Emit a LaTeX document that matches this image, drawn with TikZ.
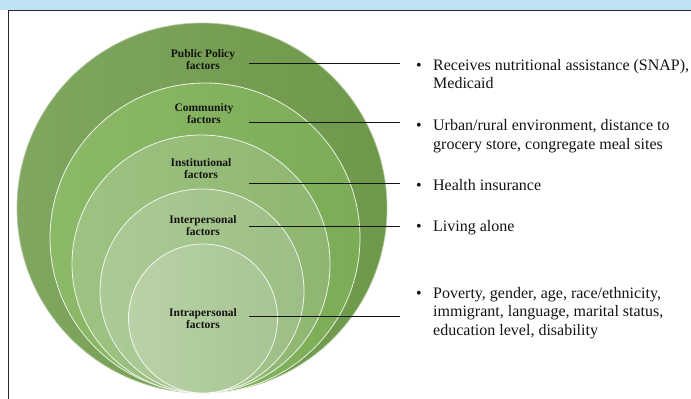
\documentclass[tikz,border=0pt]{standalone}
\usepackage{fontspec}
\setmainfont{Liberation Serif}
\definecolor{bandblue}{RGB}{190,227,245}
\definecolor{frame}{RGB}{40,40,40}
\definecolor{inkdark}{RGB}{20,20,20}
\definecolor{gOne}{RGB}{128,166,95}
\definecolor{gOneD}{RGB}{110,152,74}
\definecolor{gTwo}{RGB}{140,185,104}
\definecolor{gTwoD}{RGB}{124,172,86}
\definecolor{gThree}{RGB}{158,194,130}
\definecolor{gThreeD}{RGB}{143,182,112}
\definecolor{gFour}{RGB}{172,202,150}
\definecolor{gFourD}{RGB}{157,190,132}
\definecolor{gFive}{RGB}{185,210,167}
\definecolor{gFiveD}{RGB}{168,197,147}
\newcommand{\bulletline}{\makebox[17pt][l]{•}}
\newcommand{\contline}{\\\hspace*{17pt}}
\begin{document}
\begin{tikzpicture}[x=1pt,y=-1pt,
  ring/.style={circle, inner sep=0pt, draw=white, draw opacity=0.85, line width=0.8pt, shading angle=-60},
  lbl/.style={anchor=base, inner sep=0pt, text=inkdark,
    font=\fontsize{11.5}{12}\selectfont\bfseries},
  item/.style={anchor=base west, inner sep=0pt, text=inkdark,
    font=\fontsize{16}{18.5}\selectfont},
  link/.style={draw=inkdark, line width=1pt, shorten >=16pt}]
\useasboundingbox (0,0) rectangle (691,399);

% header band and frame
\fill[bandblue] (0,0) rectangle (691,10);
\draw[frame, line width=1pt] (691,10) -- (8,10) -- (8,399);

% nested circles, all touching at the bottom
\node[ring, minimum size=370pt, left color=gOne, right color=gOneD, draw=gOne!60!white] (ringPolicy) at (202,208) {};
\node[ring, minimum size=310pt, left color=gTwo, right color=gTwoD] (ringCommunity) at (205,238) {};
\node[ring, minimum size=258pt, left color=gThree, right color=gThreeD] (ringInstitution) at (201,264) {};
\node[ring, minimum size=204pt, left color=gFour, right color=gFourD] (ringInter) at (202,291) {};
\node[ring, minimum size=149pt, left color=gFive, right color=gFiveD] (ringIntra) at (203,318.5) {};

% ring labels
\node[lbl] (lblPolicy) at (203,57.5) {\parbox[t]{90pt}{\centering Public Policy\\factors}};
\node[lbl] (lblCommunity) at (204,111.5) {\parbox[t]{90pt}{\centering Community\\factors}};
\node[lbl] (lblInstitution) at (201,166.5) {\parbox[t]{90pt}{\centering Institutional\\factors}};
\node[lbl] (lblInter) at (203,223.5) {\parbox[t]{90pt}{\centering Interpersonal\\factors}};
\node[lbl] (lblIntra) at (203,316.5) {\parbox[t]{90pt}{\centering Intrapersonal\\factors}};

% bullet items
\node[item] (itemPolicy) at (416,70) {\parbox[t]{300pt}{\raggedright\bulletline Receives nutritional assistance (SNAP),\contline Medicaid}};
\node[item] (itemCommunity) at (416,130.5) {\parbox[t]{300pt}{\raggedright\bulletline Urban/rural environment, distance to\contline grocery store, congregate meal sites}};
\node[item] (itemInstitution) at (416,190) {\parbox[t]{300pt}{\raggedright\bulletline Health insurance}};
\node[item] (itemInter) at (416,231) {\parbox[t]{300pt}{\raggedright\bulletline Living alone}};
\node[item] (itemIntra) at (416,298) {\parbox[t]{300pt}{\raggedright\bulletline Poverty, gender, age, race/ethnicity,\contline immigrant, language, marital status,\contline education level, disability}};

% leader lines
\coordinate (fromPolicy) at (249,63);
\coordinate (fromCommunity) at (249,122);
\coordinate (fromInstitution) at (249,183);
\coordinate (fromInter) at (249,226);
\coordinate (fromIntra) at (249,316);
\draw[link] (fromPolicy) -- (fromPolicy -| itemPolicy.west);
\draw[link] (fromCommunity) -- (fromCommunity -| itemCommunity.west);
\draw[link] (fromInstitution) -- (fromInstitution -| itemInstitution.west);
\draw[link] (fromInter) -- (fromInter -| itemInter.west);
\draw[link] (fromIntra) -- (fromIntra -| itemIntra.west);
\end{tikzpicture}
\end{document}
